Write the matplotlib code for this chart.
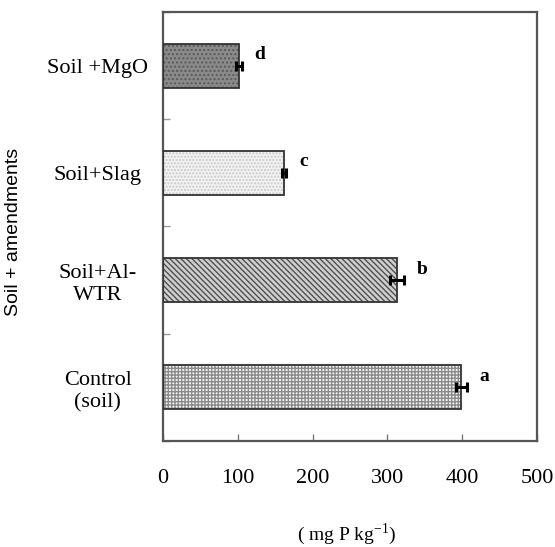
import matplotlib
matplotlib.use('Agg')
import matplotlib.pyplot as plt
import numpy as np

# data, bottom to top
categories = ['Control\n(soil)', 'Soil+Al-\nWTR', 'Soil+Slag', 'Soil +MgO']
values = [399, 313, 162, 101]
errors = [7, 9, 3, 4]
letters = ['a', 'b', 'c', 'd']

faces = ['#f4f4f4', '#d0d0d0', '#f2f2f2', '#8a8a8a']
hatch_cols = ['#8a8a8a', '#505050', '#c8c8c8', '#5a5a5a']
hatches = ['+++++', '\\\\\\\\\\\\', '.....', '....']

plt.rcParams['font.family'] = 'Liberation Serif'

fig = plt.figure(figsize=(5.55, 5.47), dpi=100)
ax = fig.add_axes([0.2937, 0.1938, 0.6739, 0.7843])

y = np.arange(len(categories))
for i in range(len(categories)):
    # hatched fill first, then a dark outline on top
    ax.barh(y[i], values[i], height=0.41, color=faces[i], hatch=hatches[i],
            edgecolor=hatch_cols[i], linewidth=0, zorder=2)
    ax.barh(y[i], values[i], height=0.41, fill=False, edgecolor='#333333',
            linewidth=1.3, zorder=3)

ax.errorbar(values, y, xerr=errors, fmt='none', ecolor='black',
            elinewidth=2.2, capsize=3.5, capthick=2.2, zorder=4)

for i in range(len(categories)):
    ax.annotate(letters[i], (values[i] + errors[i], y[i]), xytext=(9, 8),
                textcoords='offset points', fontsize=14, fontweight='bold',
                ha='left', va='center')

ax.set_xlim(0, 500)
ax.set_ylim(-0.5, 3.5)
ax.set_xticks([0, 100, 200, 300, 400, 500])
ax.tick_params(axis='x', direction='in', length=5, width=1, color='#777777',
               labelsize=16, pad=20)
ax.set_yticks(y)
ax.set_yticklabels(categories, fontsize=16, ha='center', linespacing=1.25)
ax.tick_params(axis='y', which='major', length=0, pad=47)
ax.set_yticks(np.arange(-0.5, 3.6, 1.0), minor=True)
ax.tick_params(axis='y', which='minor', direction='in', length=5, width=1,
               color='#999999')

for s in ax.spines.values():
    s.set_linewidth(1.6)
    s.set_color('#555555')

ax.set_xlabel('( mg P kg$^{\\mathregular{-1}}$)', fontsize=14)
ax.xaxis.set_label_coords(0.49, -0.187)
ax.set_ylabel('Soil + amendments', fontsize=14, family='Liberation Sans')
ax.yaxis.set_label_coords(-0.377, 0.487)

fig.savefig('out.png', dpi=100)
